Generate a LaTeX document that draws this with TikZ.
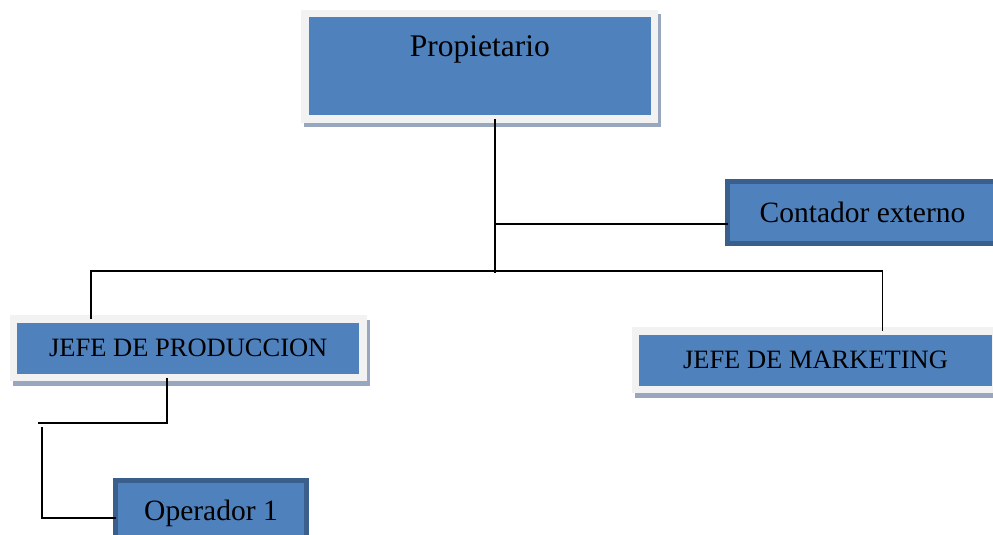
\documentclass[tikz,border=0pt]{standalone}
\usepackage{fontspec}
\setmainfont{Liberation Serif}
\usetikzlibrary{shadows}

\definecolor{boxblue}{HTML}{4F81BD}
\definecolor{framegray}{HTML}{F2F2F2}
\definecolor{shadowgray}{HTML}{98A6BE}
\definecolor{edgeblue}{HTML}{3A5F8D}

\tikzset{
  framed/.style={fill=boxblue, draw=framegray, line width=7.5pt, inner sep=0pt, outer sep=0pt,
    general shadow={shadow xshift=3pt, shadow yshift=-4.5pt,
      fill=shadowgray, draw=shadowgray, line width=7.5pt}},
  edged/.style={fill=boxblue, draw=edgeblue, line width=5pt, inner sep=0pt, outer sep=0pt},
  link/.style={draw=black, line width=1.8pt},
  bigtext/.style={font=\fontsize{31.5}{36}\selectfont},
  midtext/.style={font=\fontsize{29.5}{34}\selectfont},
  captext/.style={font=\fontsize{26.5}{30}\selectfont}
}

\begin{document}
\begin{tikzpicture}[x=1pt, y=-1pt]
  \useasboundingbox (0,0) rectangle (993,535);
  \clip (0,0) rectangle (993,535);

  % boxes
  \node[framed, bigtext, minimum width=349.5pt, text height=43pt, text depth=62.5pt,
        anchor=north] (prop) at (479.75,13.5) {Propietario};
  \node[edged, midtext, minimum width=270pt, minimum height=62pt] (cont) at (862.5,212.5) {Contador externo};
  \node[framed, captext, minimum width=349.5pt, minimum height=58.5pt] (prod) at (188.25,348.25) {JEFE DE PRODUCCION};
  \node[framed, captext, minimum width=360pt, minimum height=58.5pt] (mkt) at (815.5,360.25) {JEFE DE MARKETING};
  \node[edged, midtext, minimum width=191pt, text height=39.5pt, text depth=19.5pt,
        anchor=north] (op) at (211,480.5) {Operador 1};

  % junction points of the tree
  \coordinate (tap) at (495,224);
  \coordinate (hub) at (495,271);
  \coordinate (busL) at (91,271);
  \coordinate (busR) at (882.5,271);
  \coordinate (elbow) at (167,423);
  \coordinate (stub) at (38,423);
  \coordinate (drop) at (42,427);

  % connectors
  \draw[link] (prop.south -| hub) -- ([yshift=-2pt]hub);
  \draw[link] (tap) -- (tap -| cont.west);
  \draw[link] (busL |- prod.north) -- (busL) -- (busR) -- (busR |- mkt.north);
  \draw[link] (prod.south -| elbow) -- (elbow) -- (stub);
  \draw[link] (drop) |- (op.west |- 0,518);
\end{tikzpicture}
\end{document}
